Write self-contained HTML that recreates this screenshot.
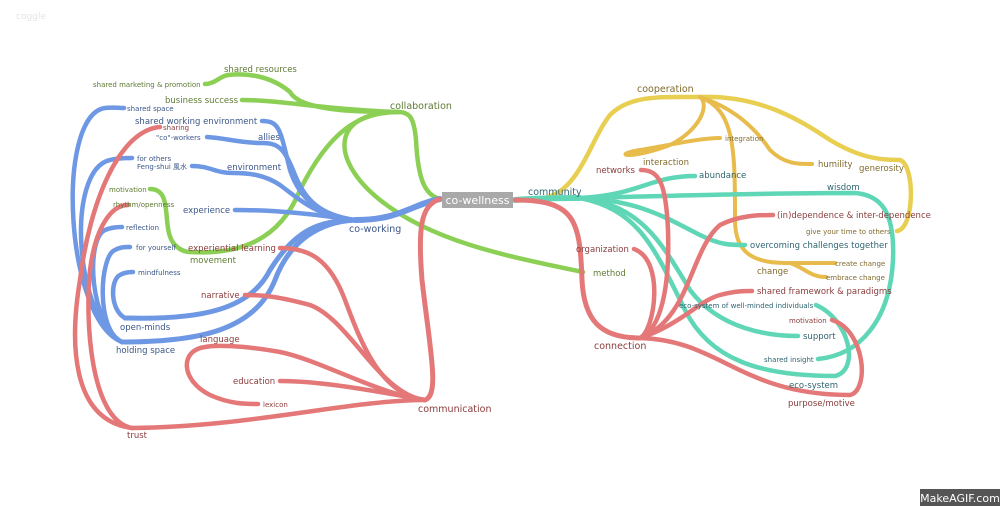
<!DOCTYPE html>
<html><head><meta charset="utf-8"><style>
html,body{margin:0;padding:0;background:#fff}
svg{display:block}
text{font-family:"DejaVu Sans","Liberation Sans",sans-serif}
</style></head><body>
<svg width="1000" height="506" viewBox="0 0 1000 506" xmlns="http://www.w3.org/2000/svg">
<rect width="1000" height="506" fill="#fff"/>
<g fill="none" stroke-linecap="round">
<!-- GREEN -->
<g stroke="#8ccf55" stroke-width="4.5">
<path d="M440,199 C425,195 418,180 416,140 C414,118 410,112 398,112"/>
<path d="M398,112 C350,112 300,110 290,92 C270,75 245,73 228,75 C220,76 215,84 205,84"/>
<path d="M398,112 C330,110 280,100 242,100"/>
<path d="M398,112 C360,112 330,130 300,190 C280,240 240,255 190,252"/>
<path d="M150,189 C175,189 160,230 175,245 C180,250 185,252 190,252"/>
<path d="M398,112 C330,112 330,160 380,200 C430,240 500,255 583,272"/>
</g>
<!-- BLUE -->
<g stroke="#6e98e4" stroke-width="4.5">
<path d="M440,199 C410,205 400,220 355,220" stroke-width="6"/>
<path d="M355,220 C320,220 295,230 270,270 C250,310 200,320 125,318" stroke-width="5"/>
<path d="M355,220 C320,222 290,240 275,280 C255,330 200,342 122,342" stroke-width="5"/>
<path d="M355,220 C320,215 300,200 290,170 C280,130 280,121 262,121"/>
<path d="M355,220 C320,215 305,200 295,175 C285,150 280,143 262,143 C240,143 225,138 207,137"/>
<path d="M355,220 C320,218 300,200 280,185 C265,175 250,173 233,173 C215,173 210,166 192,166"/>
<path d="M355,220 C320,215 280,210 235,210"/>
<path d="M125,318 C110,310 110,280 120,275 C125,272 130,272 133,272"/>
<path d="M122,342 C95,330 100,255 115,250 C120,247 125,247 130,247"/>
<path d="M122,342 C90,325 85,240 105,230 C112,227 118,227 122,227"/>
<path d="M122,342 C75,320 65,170 110,160 C118,158 125,158 132,158"/>
<path d="M122,342 C65,320 55,115 105,108 C112,107 118,108 124,108"/>
</g>
<!-- RED LEFT -->
<g stroke="#e47878" stroke-width="4.5">
<path d="M440,199 C420,205 418,230 422,280 C430,350 440,395 425,400" stroke-width="5"/>
<path d="M425,400 C380,395 360,340 345,300 C330,260 310,248 280,248"/>
<path d="M425,400 C380,395 350,320 310,305 C280,297 265,295 245,295"/>
<path d="M425,400 C380,395 320,360 280,352 C240,345 215,345 205,347 C180,350 180,380 210,395 C230,404 245,404 258,404"/>
<path d="M425,400 C370,390 320,381 280,381"/>
<path d="M425,400 C350,400 250,427 132,428"/>
<path d="M132,428 C70,420 70,340 80,280 C90,200 120,130 160,127"/>
<path d="M132,428 C90,420 85,320 90,270 C95,230 110,205 128,205"/>
</g>
<!-- YELLOW -->
<g stroke="#e8cf52" stroke-width="4.5">
<path d="M545,198 C580,190 590,140 610,115 C630,95 660,97 700,97"/>
<path d="M700,97 C760,95 800,120 830,140 C860,158 880,160 900,160 C915,165 915,228 897,231"/>
</g>
<g stroke="#e8bc4c" stroke-width="4">
<path d="M700,97 C710,105 700,130 670,145 C630,160 610,155 640,150 C670,145 700,138 720,138"/>
<path d="M700,97 C740,110 760,135 770,150 C785,165 800,164 812,164"/>
<path d="M700,97 C735,110 735,150 735,220 C735,250 750,263 785,263 L835,263"/>
<path d="M790,263 C805,268 810,277 826,277"/>
</g>
<!-- TEAL -->
<g stroke="#5fd6b6" stroke-width="4.5">
<path d="M515,200 C540,198 560,198 580,198" stroke-width="6"/>
<path d="M580,198 C640,195 650,176 695,176"/>
<path d="M580,198 C700,195 780,193 855,193 C880,195 895,210 893,260 C890,320 860,355 818,359"/>
<path d="M580,198 C640,200 670,220 700,235 C720,245 730,245 745,245"/>
<path d="M580,198 C640,205 660,240 690,290 C720,330 770,336 798,336"/>
<path d="M580,198 C640,210 655,250 685,310 C710,360 760,376 835,376 C860,370 850,320 816,305"/>
</g>
<!-- RED RIGHT -->
<g stroke="#e47878" stroke-width="4.5">
<path d="M515,200 C575,200 580,220 582,280 C584,320 600,338 640,338" stroke-width="5"/>
<path d="M640,338 C660,330 670,290 668,230 C666,185 660,170 641,170"/>
<path d="M640,338 C655,330 665,260 634,249"/>
<path d="M640,338 C690,320 690,250 720,225 C740,215 760,215 773,215"/>
<path d="M640,338 C680,325 700,300 720,295 C735,291 745,291 752,291"/>
<path d="M640,338 C720,340 740,395 850,395 C870,390 865,330 832,320"/>
</g>
</g>
<!-- co-wellness box -->
<rect x="442" y="192" width="71" height="16" fill="#a9a9a9"/>
<text x="477.5" y="204" font-size="11" fill="#fff" text-anchor="middle">co-wellness</text>
<!-- labels -->
<g font-size="9.5">
<g fill="#5e7a32">
<text x="390" y="109">collaboration</text>
<text x="224" y="72" font-size="8.5">shared resources</text>
<text x="165" y="103" font-size="8.5">business success</text>
<text x="190" y="263" font-size="8.5">movement</text>
<text x="593" y="276" font-size="8.5">method</text>
<text x="93" y="87" font-size="7">shared marketing &amp; promotion</text>
<text x="109" y="192" font-size="7">motivation</text>
<text x="113" y="207" font-size="7">rhythm/openness</text>
</g>
<g fill="#3c5688">
<text x="349" y="232">co-working</text>
<text x="135" y="124" font-size="8.5">shared working environment</text>
<text x="258" y="140" font-size="8.5">allies</text>
<text x="227" y="170" font-size="8.5">environment</text>
<text x="183" y="213" font-size="8.5">experience</text>
<text x="120" y="330" font-size="8.5">open-minds</text>
<text x="116" y="353" font-size="8.5">holding space</text>
<text x="127" y="111" font-size="7">shared space</text>
<text x="156" y="140" font-size="7">"co"-workers</text>
<text x="137" y="161" font-size="7">for others</text>
<text x="137" y="169" font-size="7">Feng-shui 風水</text>
<text x="126" y="230" font-size="7">reflection</text>
<text x="136" y="250" font-size="7">for yourself</text>
<text x="138" y="275" font-size="7">mindfulness</text>
</g>
<g fill="#8a3c3c">
<text x="418" y="412">communication</text>
<text x="188" y="251" font-size="8.5">experiential learning</text>
<text x="201" y="298" font-size="8.5">narrative</text>
<text x="200" y="342" font-size="8.5">language</text>
<text x="233" y="384" font-size="8.5">education</text>
<text x="127" y="438" font-size="8.5">trust</text>
<text x="163" y="130" font-size="7">sharing</text>
<text x="263" y="407" font-size="7">lexicon</text>
<text x="594" y="349">connection</text>
<text x="596" y="173" font-size="8.5">networks</text>
<text x="576" y="252" font-size="8.5">organization</text>
<text x="777" y="218" font-size="8.5">(in)dependence &amp; inter-dependence</text>
<text x="757" y="294" font-size="8.5">shared framework &amp; paradigms</text>
<text x="788" y="406" font-size="8.5">purpose/motive</text>
<text x="789" y="323" font-size="7">motivation</text>
</g>
<g fill="#806a2c">
<text x="637" y="92">cooperation</text>
<text x="643" y="165" font-size="8.5">interaction</text>
<text x="818" y="167" font-size="8.5">humility</text>
<text x="859" y="171" font-size="8.5">generosity</text>
<text x="757" y="274" font-size="8.5">change</text>
<text x="725" y="141" font-size="7">integration</text>
<text x="806" y="234" font-size="7">give your time to others</text>
<text x="835" y="266" font-size="7">create change</text>
<text x="826" y="280" font-size="7">embrace change</text>
</g>
<g fill="#2f6470">
<text x="528" y="195">community</text>
<text x="699" y="178" font-size="8.5">abundance</text>
<text x="827" y="190" font-size="8.5">wisdom</text>
<text x="750" y="248" font-size="8.5">overcoming challenges together</text>
<text x="803" y="339" font-size="8.5">support</text>
<text x="789" y="388" font-size="8.5">eco-system</text>
<text x="679" y="308" font-size="7">eco-system of well-minded individuals</text>
<text x="764" y="362" font-size="7">shared insight</text>
</g>
</g>
<text x="16" y="19" font-size="9" fill="#e4e4e4">coggle</text>
<rect x="920" y="489" width="80" height="17" fill="#555"/>
<text x="960" y="502" font-size="11" fill="#fff" text-anchor="middle">MakeAGIF.com</text>
</svg>
</body></html>
